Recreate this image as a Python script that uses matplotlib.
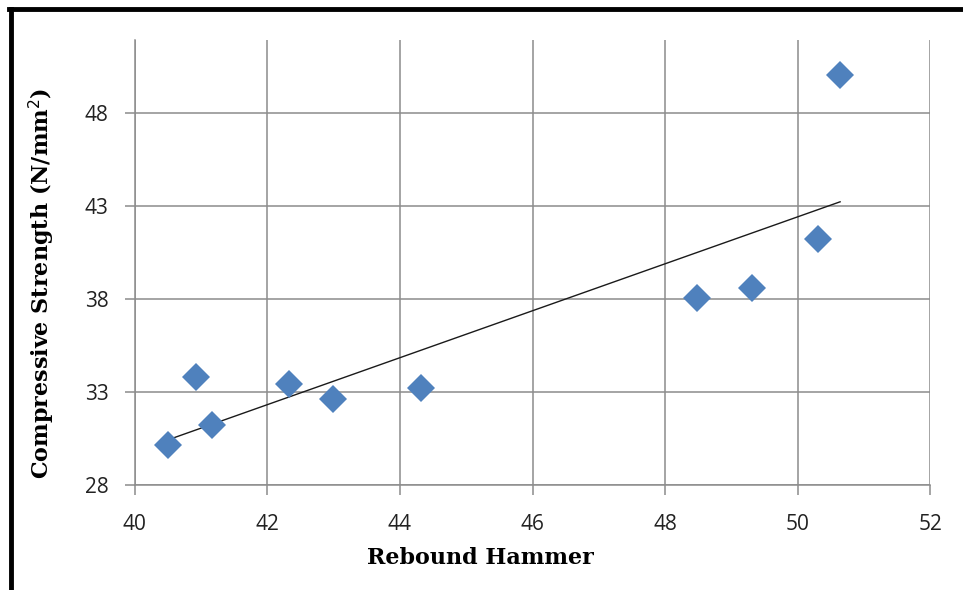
import numpy as np
import matplotlib
matplotlib.use('Agg')
import matplotlib.pyplot as plt
from matplotlib.lines import Line2D

# values
rebound = [40.50, 40.92, 41.16, 42.32, 42.99, 44.32, 48.48, 49.31, 50.31, 50.64]
strength = [30.15, 33.8, 31.2, 33.4, 32.6, 33.2, 38.05, 38.6, 41.2, 50.0]
x_ticks = [40, 42, 44, 46, 48, 50, 52]
y_ticks = [28, 33, 38, 43, 48]

grid_col = '#8c8c8c'

fig = plt.figure(figsize=(9.63, 5.9), dpi=100)
ax = fig.add_axes([0.140, 0.178, 0.826, 0.754])

# linear trend line
k, b = np.polyfit(rebound, strength, 1)
xs = np.array([min(rebound), max(rebound)])
ax.plot(xs, k * xs + b, color='#1a1a1a', lw=1.0, zorder=3)

ax.plot(rebound, strength, linestyle='none', marker='D', markersize=14,
        color='#4F81BD', markeredgewidth=0, zorder=4)

ax.set_xlim(40, 52)
ax.set_ylim(28, 51.9)
ax.set_xticks(x_ticks)
ax.set_yticks(y_ticks)
ax.grid(True, color=grid_col, lw=1.1)
ax.set_axisbelow(True)

for s in ['top', 'right']:
    ax.spines[s].set_visible(False)
for s in ['left', 'bottom']:
    ax.spines[s].set_color(grid_col)
    ax.spines[s].set_linewidth(1.1)

ax.tick_params(axis='both', direction='out', length=7, width=1.1, color=grid_col,
               labelsize=15, labelcolor='#222222')
ax.tick_params(axis='x', pad=14)
ax.tick_params(axis='y', pad=12)
for lab in ax.get_xticklabels() + ax.get_yticklabels():
    lab.set_family('Open Sans')

ax.set_xlabel('Rebound Hammer', fontsize=16, fontweight='bold',
              family='DejaVu Serif', va='center')
ax.set_ylabel('Compressive Strength (N/mm$^2$)', fontsize=16, fontweight='bold',
              family='DejaVu Serif', va='center')
ax.xaxis.set_label_coords(0.435, -0.164)
ax.yaxis.set_label_coords(-0.117, 0.454)

# frame around the picture (left and top edges)
fig.add_artist(Line2D([0.011, 0.011], [0, 0.984], transform=fig.transFigure,
                      color='black', lw=3.5))
fig.add_artist(Line2D([0.009, 1.0], [0.984, 0.984], transform=fig.transFigure,
                      color='black', lw=3.5))

fig.savefig('out.png', dpi=100)
